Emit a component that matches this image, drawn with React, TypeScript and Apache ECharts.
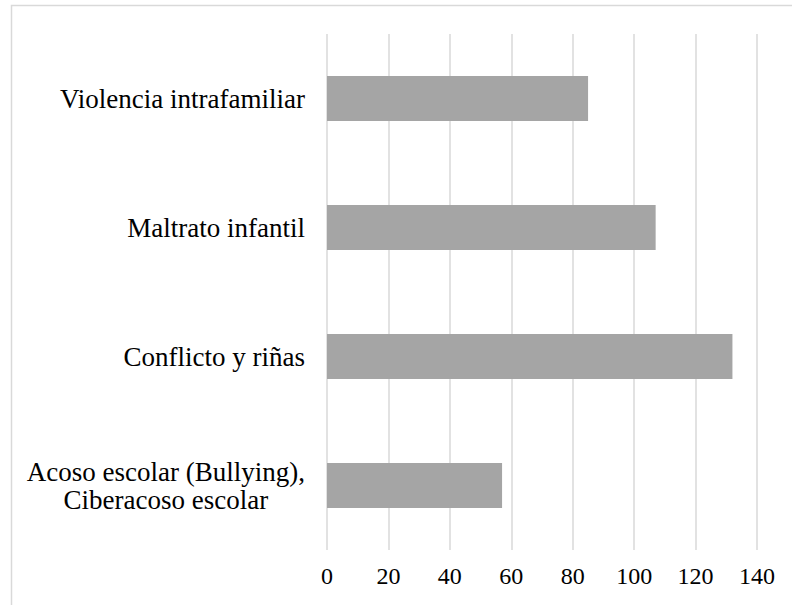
import React, { useEffect, useRef } from "react";
import * as echarts from "echarts";

const categories = [
  "Acoso escolar (Bullying),\nCiberacoso escolar",
  "Conflicto y riñas",
  "Maltrato infantil",
  "Violencia intrafamiliar",
];
const values = [57, 132, 107, 85];
const xMin = 0;
const xMax = 140;
const xInterval = 20;

export default function App() {
  const ref = useRef<HTMLDivElement>(null);
  useEffect(() => {
    document.body.style.margin = "0";
    if (!ref.current) return;
    const chart = echarts.init(ref.current, null, { renderer: "svg" });
    const font = "Liberation Serif";
    chart.setOption({
      animation: false,
      backgroundColor: "#ffffff",
      textStyle: { fontFamily: font },
      graphic: [
        {
          type: "rect",
          shape: { x: 11.5, y: 5.5, width: 800, height: 700 },
          style: { fill: "none", stroke: "#d9d9d9", lineWidth: 1.5 },
          silent: true,
        },
      ],
      grid: { left: 327, right: 35, top: 34, bottom: 55, containLabel: false },
      xAxis: {
        type: "value",
        min: xMin,
        max: xMax,
        interval: xInterval,
        axisLine: { show: false },
        axisTick: { show: false },
        axisLabel: {
          color: "#000",
          fontFamily: font,
          fontSize: 24,
          margin: 14,
        },
        splitLine: { show: true, lineStyle: { color: "#d9d9d9", width: 1.5 } },
      },
      yAxis: {
        type: "category",
        data: categories,
        axisLine: { show: false },
        axisTick: { show: false },
        axisLabel: {
          color: "#000",
          fontFamily: font,
          fontSize: 27,
          margin: 22,
          lineHeight: 28,
          formatter: (v: string) =>
            v
              .split("\n")
              .map((l) => "{c|" + l + "}")
              .join("\n"),
          rich: {
            c: {
              align: "center",
              color: "#000",
              fontFamily: font,
              fontSize: 27,
              lineHeight: 28,
            },
          },
        },
      },
      series: [
        {
          type: "bar",
          data: values,
          barCategoryGap: "65%",
          itemStyle: { color: "#a5a5a5" },
        },
      ],
    });
    return () => chart.dispose();
  }, []);
  return <div ref={ref} style={{ width: 792, height: 605 }} />;
}
